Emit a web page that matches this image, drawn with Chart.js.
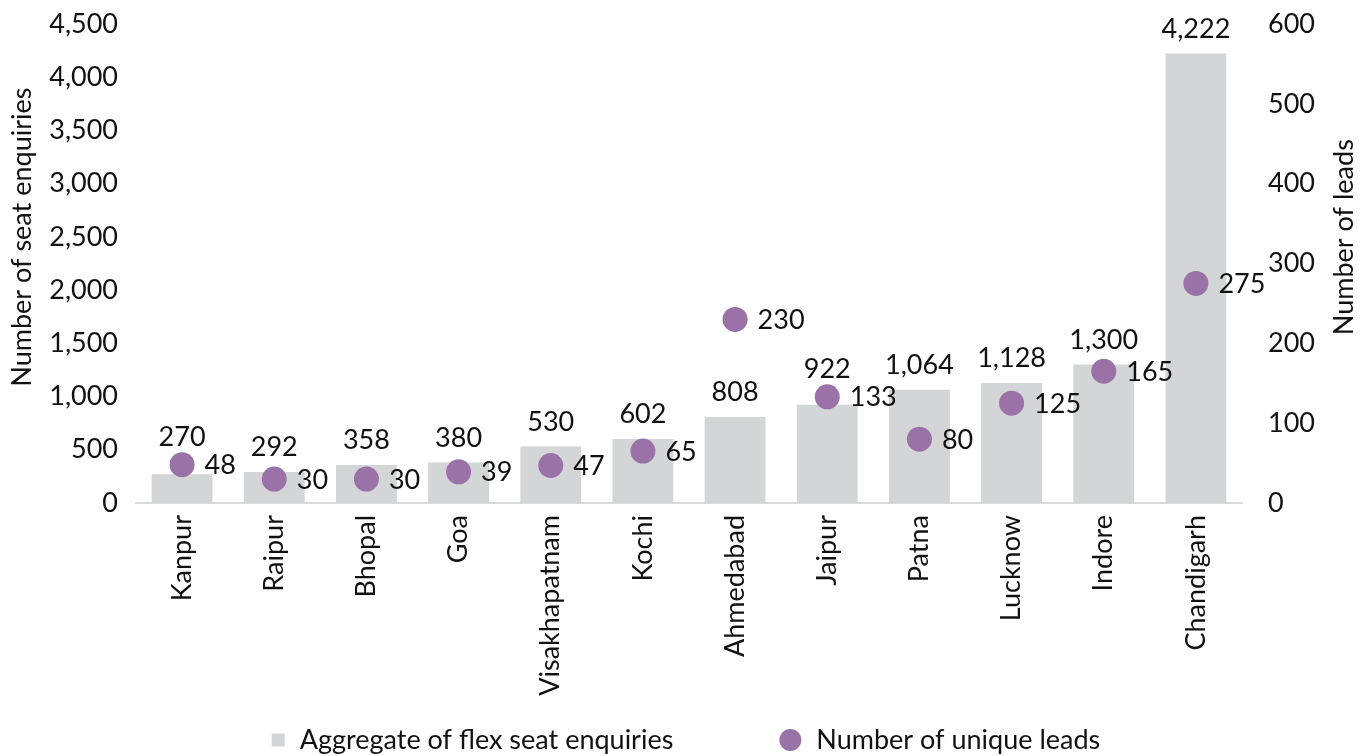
<!DOCTYPE html>
<html>
<head>
<meta charset="utf-8">
<script src="https://cdn.jsdelivr.net/npm/chart.js@4/dist/chart.umd.min.js"></script>
<style>
  html, body { margin: 0; padding: 0; background: #ffffff; }
  #wrap { width: 1371px; height: 756px; position: relative; }
</style>
</head>
<body>
<div id="wrap"><canvas id="chart"></canvas></div>
<script>
// Cities, enquiry totals (left axis) and unique leads (right axis)
const cities = ["Kanpur", "Raipur", "Bhopal", "Goa", "Visakhapatnam", "Kochi",
                "Ahmedabad", "Jaipur", "Patna", "Lucknow", "Indore", "Chandigarh"];
const seatEnquiries = [270, 292, 358, 380, 530, 602, 808, 922, 1064, 1128, 1300, 4222];
const uniqueLeads = [48, 30, 30, 39, 47, 65, 230, 133, 80, 125, 165, 275];

const enquiryTicks = [0, 500, 1000, 1500, 2000, 2500, 3000, 3500, 4000, 4500];
const leadTicks = [0, 100, 200, 300, 400, 500, 600];

const leftTitle = "Number of seat enquiries";
const rightTitle = "Number of leads";

const FONT = "Lato, 'Liberation Sans', sans-serif";
const SIZE = 27;
const DIGIT_H = 19;
const TEXT = "#111111";
const BAR = "#d4d5d7";
const DOT = "#9a72a8";
const DOT_R = 12.5;
const LEGEND_SPACE = 50;
const fmt = v => v.toLocaleString("en-US");

// Writes each value next to its mark, using the positions the library laid out.
// A bar label that would run into the dot of the same city is lifted over it.
const valueLabels = {
  id: "valueLabels",
  afterDatasetsDraw(chart) {
    const ctx = chart.ctx;
    const bars = chart.getDatasetMeta(0).data;
    const dots = chart.getDatasetMeta(1).data;
    ctx.save();
    ctx.fillStyle = TEXT;
    ctx.font = SIZE + "px " + FONT;
    ctx.textBaseline = "alphabetic";
    bars.forEach((bar, i) => {
      let base = bar.y - 16;
      const d = dots[i];
      const hits = d.y + DOT_R > base - DIGIT_H - 4 && d.y - DOT_R < base + 4;
      if (hits) base = Math.min(base, d.y - DOT_R - 6);
      ctx.textAlign = "center";
      ctx.fillText(fmt(seatEnquiries[i]), bar.x, base);
    });
    dots.forEach((pt, i) => {
      ctx.textAlign = "left";
      ctx.fillText(fmt(uniqueLeads[i]), pt.x + DOT_R + 10, pt.y + DIGIT_H / 2);
    });
    ctx.restore();
  }
};

// Axis titles, both reading upwards
const axisTitles = {
  id: "axisTitles",
  afterDraw(chart) {
    const ctx = chart.ctx;
    const cy = chart.chartArea.top + (chart.chartArea.bottom - chart.chartArea.top) * 0.445;
    ctx.save();
    ctx.fillStyle = TEXT;
    ctx.font = SIZE + "px " + FONT;
    ctx.textAlign = "center";
    ctx.textBaseline = "middle";
    [[22, leftTitle], [chart.width - 27, rightTitle]].forEach(([x, t]) => {
      ctx.save();
      ctx.translate(x, cy);
      ctx.rotate(-Math.PI / 2);
      ctx.fillText(t, 0, 0);
      ctx.restore();
    });
    ctx.restore();
  }
};

// Legend row under the chart: a small square for the bars, a disc for the dots
const legendRow = {
  id: "legendRow",
  afterDraw(chart) {
    const ctx = chart.ctx;
    const ds = chart.data.datasets;
    ctx.save();
    ctx.font = SIZE + "px " + FONT;
    const w0 = ctx.measureText(ds[0].label).width;
    const w1 = ctx.measureText(ds[1].label).width;
    const sq = 13, gap = 15, between = 106, disc = 22;
    const total = sq + gap + w0 + between + disc + gap + w1;
    const cx = (chart.chartArea.left + chart.chartArea.right) / 2 - 3;
    const y = chart.height - 16;
    let x = cx - total / 2;
    ctx.fillStyle = ds[0].backgroundColor;
    ctx.fillRect(x, y - sq / 2, sq, sq);
    x += sq + gap;
    ctx.fillStyle = TEXT;
    ctx.textAlign = "left";
    ctx.textBaseline = "middle";
    ctx.fillText(ds[0].label, x, y);
    x += w0 + between;
    ctx.fillStyle = ds[1].pointBackgroundColor;
    ctx.beginPath();
    ctx.arc(x + disc / 2, y, disc / 2, 0, Math.PI * 2);
    ctx.fill();
    x += disc + gap;
    ctx.fillStyle = TEXT;
    ctx.fillText(ds[1].label, x, y);
    ctx.restore();
  }
};

// Fixed width for a value axis, with no extra room kept for its end labels
const fitValueAxis = width => s => {
  s.width = width;
  s.paddingTop = 0;
  s.paddingBottom = 0;
};

new Chart(document.getElementById("chart"), {
  data: {
    labels: cities,
    datasets: [
      {
        type: "bar",
        label: "Aggregate of flex seat enquiries",
        data: seatEnquiries,
        yAxisID: "y",
        backgroundColor: BAR,
        borderWidth: 0,
        categoryPercentage: 1,
        barPercentage: 0.66,
        order: 2
      },
      {
        type: "line",
        label: "Number of unique leads",
        data: uniqueLeads,
        yAxisID: "y1",
        showLine: false,
        pointStyle: "circle",
        pointRadius: DOT_R,
        pointHoverRadius: DOT_R,
        pointBackgroundColor: DOT,
        pointBorderWidth: 0,
        backgroundColor: DOT,
        borderColor: DOT,
        order: 1
      }
    ]
  },
  options: {
    responsive: true,
    maintainAspectRatio: false,
    animation: false,
    layout: { padding: { top: 24, left: 0, right: 0, bottom: LEGEND_SPACE } },
    plugins: {
      tooltip: { enabled: false },
      legend: { display: false }
    },
    scales: {
      x: {
        afterFit: s => { s.height = 253 - LEGEND_SPACE; },
        grid: { display: false, drawTicks: false },
        border: { color: "#d9d9d9", width: 2 },
        ticks: {
          minRotation: 90,
          maxRotation: 90,
          padding: 12,
          color: TEXT,
          font: { family: FONT, size: SIZE }
        }
      },
      y: {
        position: "left",
        min: 0,
        max: 4500,
        afterBuildTicks: s => { s.ticks = enquiryTicks.map(v => ({ value: v })); },
        afterFit: fitValueAxis(136),
        grid: { display: false, drawTicks: false },
        border: { display: false },
        ticks: {
          padding: 18,
          color: TEXT,
          font: { family: FONT, size: SIZE },
          callback: v => fmt(v)
        }
      },
      y1: {
        position: "right",
        min: 0,
        max: 600,
        afterBuildTicks: s => { s.ticks = leadTicks.map(v => ({ value: v })); },
        afterFit: fitValueAxis(129),
        grid: { display: false, drawTicks: false },
        border: { display: false },
        ticks: {
          padding: 26,
          color: TEXT,
          font: { family: FONT, size: SIZE },
          callback: v => fmt(v)
        }
      }
    }
  },
  plugins: [valueLabels, axisTitles, legendRow]
});
</script>
</body>
</html>
